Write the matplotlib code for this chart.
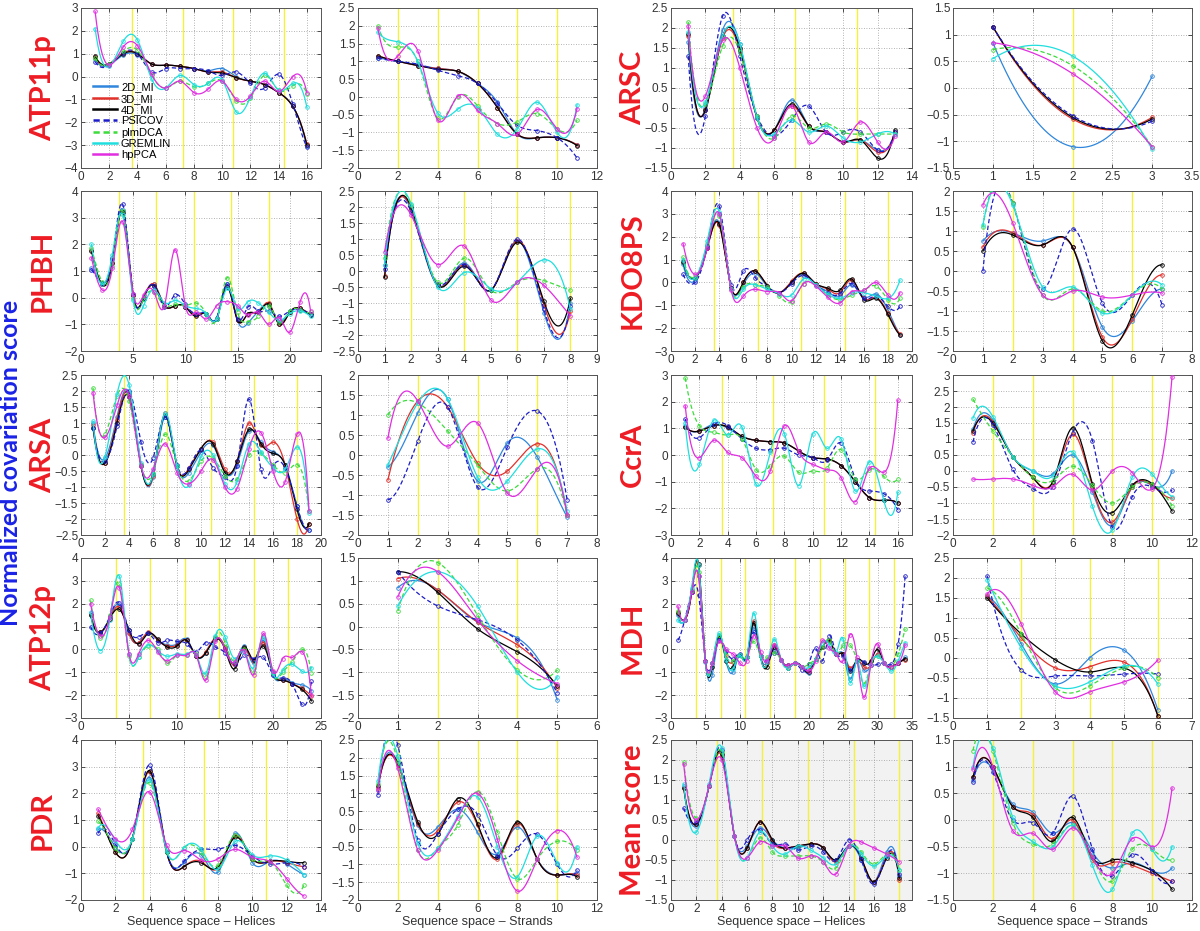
#!/usr/bin/env python3

import numpy as np
import matplotlib
matplotlib.use("Agg")
import matplotlib.pyplot as plt
from matplotlib.lines import Line2D
from matplotlib.ticker import FuncFormatter

SERIES = ["2D_MI", "3D_MI", "4D_MI", "PSICOV", "plmDCA", "GREMLIN", "hpPCA"]

# ---------------------------------------------------------------- data
atp11p_helix = {
    "2D_MI":   [0.75, 0.5, 0.95, 0.95, 0.55, 0.5, 0.45, 0.35, 0.25, 0.35, 0.0, -0.2, -0.35, -0.7, -1.3, -3.05],
    "3D_MI":   [0.85, 0.55, 1.05, 1.0, 0.55, 0.5, 0.45, 0.35, 0.2, 0.2, -0.05, -0.2, -0.35, -0.7, -1.3, -2.95],
    "4D_MI":   [0.9, 0.55, 1.0, 1.0, 0.55, 0.5, 0.45, 0.35, 0.2, 0.15, -0.05, -0.2, -0.35, -0.7, -1.3, -3.0],
    "PSICOV":  [0.65, 0.5, 1.05, 1.0, 0.2, 0.35, 0.35, 0.35, 0.25, 0.05, 0.2, -0.3, -0.5, 0.1, -1.2, -3.1],
    "plmDCA":  [0.8, 0.55, 1.1, 1.15, 0.05, -0.5, -0.2, -0.45, -0.3, -0.2, -1.05, -0.95, 0.05, -0.6, -0.4, -0.75],
    "GREMLIN": [2.1, 0.45, 1.55, 1.6, -0.1, -0.5, 0.05, -0.35, -0.3, -0.15, -1.55, -0.9, 0.15, -0.6, -0.3, -1.35],
    "hpPCA":   [2.85, 0.5, 1.3, 1.35, 0.1, -0.5, -0.2, -0.7, -0.55, -0.2, -1.0, -0.85, -0.2, -0.65, 0.0, -0.7],
}
atp11p_strand = {
    "2D_MI":   [1.1, 1.0, 0.9, 0.8, 0.72, 0.38, -0.15, -1.05, -1.15, -1.15, -1.35],
    "3D_MI":   [1.15, 1.0, 0.88, 0.8, 0.72, 0.38, -0.3, -1.05, -1.15, -1.15, -1.35],
    "4D_MI":   [1.15, 1.0, 0.88, 0.78, 0.72, 0.38, -0.3, -1.05, -1.15, -1.15, -1.37],
    "PSICOV":  [1.1, 1.0, 0.92, 0.75, 0.6, 0.38, -0.18, -0.8, -0.95, -1.15, -1.72],
    "plmDCA":  [2.0, 1.4, 1.0, -0.6, 0.0, -0.25, -0.75, -0.7, -0.47, -0.9, -0.65],
    "GREMLIN": [1.82, 1.55, 1.0, -0.45, -0.35, -0.3, -1.05, -0.9, -0.15, -1.0, -0.22],
    "hpPCA":   [1.93, 1.15, 1.3, -0.65, 0.02, -0.38, -0.75, -1.05, -0.35, -0.9, -0.33],
}
arsc_helix = {
    "2D_MI":   [1.65, 0.0, 1.95, 1.6, -0.25, -0.55, 0.2, -0.45, -0.6, -0.85, -0.8, -1.05, -0.65],
    "3D_MI":   [1.8, -0.05, 1.75, 1.45, -0.25, -0.55, 0.05, -0.45, -0.6, -0.85, -0.8, -1.1, -0.6],
    "4D_MI":   [1.85, -0.05, 1.8, 1.5, -0.25, -0.55, 0.1, -0.45, -0.6, -0.85, -0.8, -1.25, -0.55],
    "PSICOV":  [1.3, -0.2, 2.3, 1.3, -0.2, -0.7, -0.3, 0.05, -0.6, -0.6, -0.6, -1.05, -0.6],
    "plmDCA":  [2.15, 0.1, 1.55, 1.4, -0.2, -0.75, -0.2, -0.5, -0.4, -0.6, -0.65, -0.65, -0.65],
    "GREMLIN": [1.9, 0.15, 1.8, 1.6, -0.25, -0.65, -0.3, -0.6, -0.45, -0.75, -0.85, -0.65, -0.65],
    "hpPCA":   [2.05, 0.3, 1.7, 1.0, -0.5, -0.75, 0.05, -0.85, -0.6, -0.85, -0.35, -0.85, -0.7],
}
arsc_strand = {
    "2D_MI":   [0.85, -1.1, 0.22],
    "3D_MI":   [1.15, -0.58, -0.55],
    "4D_MI":   [1.15, -0.55, -0.58],
    "PSICOV":  [1.15, -0.52, -0.62],
    "plmDCA":  [0.72, 0.42, -1.1],
    "GREMLIN": [0.55, 0.6, -1.15],
    "hpPCA":   [0.85, 0.27, -1.1],
}
phbh_helix = {
    "2D_MI":   [1.1, 0.55, 1.4, 3.3, 0.1, -0.05, 0.5, -0.3, -0.3, -0.35, -0.6, -0.6, -0.8, 0.5, -0.85, -0.95, -0.5, -0.3, -0.9, -0.55, -0.45, -0.65],
    "3D_MI":   [1.8, 0.5, 1.3, 3.2, 0.1, 0.0, 0.5, -0.3, -0.3, -0.35, -0.65, -0.6, -0.8, 0.45, -0.85, -0.6, -0.55, -0.2, -1.0, -0.55, -0.4, -0.6],
    "4D_MI":   [1.75, 0.5, 1.3, 3.2, 0.1, 0.0, 0.45, -0.3, -0.3, -0.35, -0.7, -0.6, -0.8, 0.4, -0.85, -0.6, -0.55, -0.25, -1.0, -0.55, -0.4, -0.65],
    "PSICOV":  [1.05, 0.55, 1.5, 3.5, 0.15, 0.0, 0.45, -0.35, 0.1, -0.25, -0.6, -0.6, -0.75, 0.5, -0.8, -0.35, -0.5, -0.5, -0.7, -0.5, -0.45, -0.6],
    "plmDCA":  [1.85, 0.6, 1.2, 3.25, 0.0, -0.05, 0.2, -0.3, -0.25, -0.3, -0.2, -0.6, -0.8, 0.75, -0.55, -0.9, -0.7, -0.3, -0.9, -0.5, -0.45, -0.55],
    "GREMLIN": [2.0, 0.5, 1.6, 3.1, -0.1, -0.3, 0.3, -0.2, -0.1, -0.3, -0.4, -0.6, -0.8, 0.35, -0.4, -0.15, -0.2, -0.55, -0.85, -0.6, -0.5, -0.7],
    "hpPCA":   [1.5, 0.3, 1.1, 2.85, 0.15, 0.1, 0.2, -0.3, 1.8, -0.3, -0.55, -0.8, -0.3, -0.15, -0.3, -0.65, -0.55, -1.0, -0.75, -1.3, -0.15, -0.5],
}
phbh_strand = {
    "2D_MI":   [0.2, 1.9, -0.45, 0.25, -0.6, 0.95, -1.3, -1.0],
    "3D_MI":   [-0.15, 1.95, -0.45, 0.2, -0.6, 0.95, -1.05, -1.25],
    "4D_MI":   [-0.2, 2.0, -0.45, 0.15, -0.6, 0.9, -0.95, -0.85],
    "PSICOV":  [0.05, 1.85, -0.4, 0.2, -0.6, 1.0, -1.2, -1.1],
    "plmDCA":  [0.4, 2.05, -0.35, 0.4, -0.6, -0.35, -0.3, -0.6],
    "GREMLIN": [0.2, 2.1, -0.5, -0.05, -0.55, -0.35, 0.35, -1.2],
    "hpPCA":   [0.6, 1.75, 0.2, 0.78, -0.9, -0.35, -0.45, -1.4],
}
kdo8ps_helix = {
    "2D_MI":   [0.8, 0.1, 1.6, 2.6, -0.25, -0.1, 0.4, -0.2, -0.45, 0.0, 0.35, -0.1, -0.4, -0.6, -0.1, -0.65, -0.5, -1.2, -2.3],
    "3D_MI":   [0.95, 0.2, 1.5, 2.5, -0.25, 0.0, 0.5, -0.15, -0.45, 0.05, 0.4, -0.05, -0.3, -0.45, 0.1, -0.7, -0.65, -1.35, -2.25],
    "4D_MI":   [0.9, 0.2, 1.5, 2.55, -0.25, 0.0, 0.5, -0.15, -0.45, 0.0, 0.4, -0.05, -0.25, -0.35, 0.15, -0.75, -0.7, -1.4, -2.3],
    "PSICOV":  [0.35, 0.0, 1.6, 3.35, -0.1, 0.5, 0.2, -0.2, -0.45, -0.05, 0.3, -0.1, -0.45, -0.5, -0.05, -0.7, -0.6, -1.05, -1.05],
    "plmDCA":  [1.1, 0.25, 1.7, 2.9, -0.3, -0.2, -0.1, -0.2, -0.6, -0.85, -0.05, -0.1, -0.55, -0.75, -0.55, -0.35, -0.15, -0.75, -0.7],
    "GREMLIN": [1.0, 0.2, 1.8, 3.1, -0.3, -0.3, -0.1, -0.3, -0.5, -0.55, 0.15, -0.1, -0.5, -0.7, -0.45, -0.45, -0.6, -0.7, 0.1],
    "hpPCA":   [1.7, 0.35, 1.5, 3.0, -0.35, -0.6, -0.3, -0.4, -0.45, -0.8, -0.05, -0.15, -0.65, -0.9, -0.4, -0.35, 0.0, -0.55, -0.45],
}
kdo8ps_strand = {
    "2D_MI":   [0.75, 0.95, 0.75, 0.6, -1.4, -1.25, -0.45],
    "3D_MI":   [0.6, 0.95, 0.65, 0.6, -1.65, -1.2, -0.1],
    "4D_MI":   [0.5, 0.9, 0.65, 0.6, -1.75, -1.1, 0.15],
    "PSICOV":  [0.0, 1.7, -0.45, 1.05, -0.8, -0.6, -0.85],
    "plmDCA":  [1.1, 1.7, -0.6, -0.45, -1.0, -0.6, -0.45],
    "GREMLIN": [1.15, 1.65, -0.4, -0.4, -1.05, -0.6, -0.35],
    "hpPCA":   [1.65, 1.2, -0.6, -0.5, -0.65, -0.6, -0.55],
}
arsa_helix = {
    "2D_MI":   [1.0, -0.1, 1.2, 1.95, -0.3, -0.7, 1.2, -0.35, -0.55, 0.1, 0.3, -0.55, -0.3, 0.75, 0.4, 0.1, -0.3, -1.6, -2.35],
    "3D_MI":   [0.95, -0.25, 1.1, 1.9, -0.3, -0.65, 1.3, -0.35, -0.4, 0.2, 0.4, -0.45, -0.2, 1.0, 0.3, 0.4, -0.3, -2.0, -2.15],
    "4D_MI":   [0.85, -0.25, 1.0, 1.8, -0.35, -0.6, 1.25, -0.35, -0.45, 0.2, 0.35, -0.55, -0.2, 0.8, 0.35, 0.05, -0.3, -1.7, -2.15],
    "PSICOV":  [0.85, -0.2, 0.9, 2.0, 0.4, -0.1, 1.2, -0.3, -0.4, 0.15, -0.4, -0.7, -0.35, 1.75, -0.45, -0.35, -0.4, -1.6, -2.35],
    "plmDCA":  [2.1, 0.65, 1.85, 1.7, -0.3, -0.55, 0.65, -0.35, -0.8, -0.2, -0.1, -0.65, -0.75, 0.0, 0.05, -0.3, -0.55, -0.3, -1.75],
    "GREMLIN": [1.05, -0.05, 1.9, 2.2, -0.25, -0.6, 1.3, -0.35, -0.95, -0.05, 0.0, -0.9, -0.85, 0.35, 0.1, -0.4, -0.45, 0.25, -1.8],
    "hpPCA":   [1.95, 0.55, 1.55, 1.85, -0.35, -0.45, 0.35, -0.55, -0.9, -0.5, -0.15, -1.0, -1.05, 0.2, 0.7, -0.5, -0.85, 0.65, -1.75],
}
arsa_strand = {
    "2D_MI":   [-0.3, 1.05, 1.4, -0.65, 0.3, -0.05, -1.55],
    "3D_MI":   [-0.62, 1.35, 1.2, -0.2, -0.4, 0.28, -1.5],
    "4D_MI":   [],
    "PSICOV":  [-1.12, 0.35, 1.2, -0.8, 0.2, 1.1, -1.12],
    "plmDCA":  [1.0, 1.3, 0.6, -0.25, -0.9, -0.35, -1.5],
    "GREMLIN": [-0.25, 1.3, 1.4, -0.55, -0.65, 0.15, -1.4],
    "hpPCA":   [0.42, 1.35, 0.22, 0.8, -0.95, -0.35, -1.5],
}
ccra_helix = {
    "2D_MI":   [1.1, 0.9, 1.15, 1.0, 0.7, 0.55, 0.5, 0.45, 0.15, -0.1, -0.15, -0.4, -1.0, -1.6, -1.7, -1.8],
    "3D_MI":   [1.05, 0.9, 1.1, 1.05, 0.7, 0.55, 0.5, 0.45, 0.15, -0.1, -0.15, -0.4, -1.0, -1.6, -1.7, -1.8],
    "4D_MI":   [1.05, 0.9, 1.1, 1.05, 0.7, 0.55, 0.5, 0.45, 0.15, -0.1, -0.15, -0.4, -1.0, -1.6, -1.7, -1.8],
    "PSICOV":  [1.35, 0.65, 1.15, 1.1, 0.6, 0.25, 0.2, 0.25, 0.0, -0.1, -0.2, 0.45, -0.9, -1.35, -1.45, -2.05],
    "plmDCA":  [2.9, 1.1, 0.85, 0.75, 0.6, -0.55, -0.4, -0.05, -0.65, -0.6, -0.5, 0.2, -0.9, -0.55, -0.8, -0.9],
    "GREMLIN": [1.2, -0.35, 1.3, 0.75, 1.05, -1.1, 0.1, 0.8, -1.15, 0.8, 0.25, 0.6, -1.35, -0.25, -1.7, -1.4],
    "hpPCA":   [1.85, -0.1, 0.55, 0.1, -0.1, -0.8, -0.6, 1.1, 0.15, -0.35, -0.55, -0.85, -1.75, -0.5, -0.65, 2.05],
}
ccra_strand = {
    "2D_MI":   [1.3, 1.6, 0.45, 0.0, -0.1, 0.5, -0.65, -1.7, -0.5, -0.45, 0.0],
    "3D_MI":   [1.2, 1.55, 0.45, -0.2, -0.35, 1.15, -0.5, -1.6, -0.5, -0.45, -0.85],
    "4D_MI":   [1.25, 1.5, 0.45, -0.2, -0.35, 1.35, -0.4, -1.3, -0.45, -0.4, -1.25],
    "PSICOV":  [0.9, 1.45, 0.05, -0.55, -0.5, 1.2, 0.95, -1.75, -0.8, -0.5, -0.6],
    "plmDCA":  [2.25, 1.25, 0.45, -0.2, -0.3, 0.15, -0.45, -1.0, -0.5, -0.4, -1.1],
    "GREMLIN": [1.65, 1.7, 0.45, 0.0, -0.15, 0.6, -1.1, -1.85, -0.2, -0.1, -0.8],
    "hpPCA":   [-0.25, -0.25, -0.25, -0.45, -0.5, -0.1, -0.6, 0.0, -0.05, -0.55, 2.95],
}
atp12p_helix = {
    "2D_MI":   [1.6, 0.7, 1.4, 1.95, 0.7, 0.3, 0.7, 0.4, 0.2, 0.25, 0.45, -0.3, -0.15, 0.5, 0.1, -0.6, 0.15, -0.6, 0.4, -1.1, -1.3, -1.45, -1.55, -1.8],
    "3D_MI":   [1.5, 0.75, 1.35, 1.85, 0.7, 0.3, 0.75, 0.4, 0.15, 0.2, 0.4, -0.3, -0.1, 0.5, 0.1, -0.7, 0.05, -0.5, 0.3, -1.0, -1.35, -1.5, -1.7, -2.05],
    "4D_MI":   [1.5, 0.75, 1.35, 1.75, 0.85, 0.25, 0.7, 0.45, 0.1, 0.15, 0.4, -0.3, -0.15, 0.45, 0.0, -0.85, 0.1, -0.45, 0.15, -1.05, -1.35, -1.5, -1.75, -2.25],
    "PSICOV":  [1.0, 0.7, 1.45, 2.05, 0.85, 0.55, 0.7, 0.3, 0.4, 0.35, 0.25, -0.1, 0.3, 0.1, -0.15, -0.65, -0.25, -0.4, -0.35, -1.1, -1.25, -1.5, -2.4, -1.4],
    "plmDCA":  [2.15, 0.5, 1.5, 2.85, -0.3, -0.35, 0.15, 0.0, -0.6, -0.25, -0.25, -0.2, -1.2, 0.55, 0.3, -0.5, 0.0, -1.0, 0.6, -1.05, -1.0, -0.55, 0.0, -1.05],
    "GREMLIN": [1.65, -0.05, 1.3, 3.2, -0.2, -0.35, 0.2, -0.05, -0.3, -0.2, -0.2, -0.25, -1.05, 0.6, 0.55, -0.4, -0.1, -0.8, 0.55, -1.05, -0.9, -0.65, -0.95, -0.8],
    "hpPCA":   [2.0, 0.6, 1.4, 2.7, -0.2, -0.2, 0.4, -0.1, -0.5, -0.25, -0.25, -0.25, -1.35, 0.35, 0.0, -0.55, -0.05, -1.1, 0.7, -0.95, -0.4, -0.35, -0.1, -2.0],
}
atp12p_strand = {
    "2D_MI":   [0.85, 0.8, 0.1, -0.25, -1.6],
    "3D_MI":   [1.05, 0.8, 0.1, -0.4, -1.35],
    "4D_MI":   [1.2, 0.75, -0.05, -0.55, -1.3],
    "PSICOV":  [1.2, 0.45, 0.15, -0.3, -1.45],
    "plmDCA":  [0.35, 1.4, 0.25, -0.95, -0.95],
    "GREMLIN": [0.45, 1.2, 0.45, -1.0, -1.1],
    "hpPCA":   [0.65, 1.2, 0.15, -0.75, -1.25],
}
mdh_helix = {
    "2D_MI":   [1.5, 1.3, 2.6, 3.2, -0.5, -1.1, 0.55, -0.5, -1.0, -0.25, -0.35, 0.95, -0.3, -0.55, 0.0, -0.45, -0.8, -0.6, -0.75, -1.05, -0.4, 0.1, 0.35, -0.2, -0.2, -1.3, -0.5, -0.9, -0.7, -0.2, -0.6, -0.75, -0.6, -0.35],
    "3D_MI":   [1.65, 1.3, 2.5, 3.7, -0.5, -0.6, 0.55, -0.3, -0.55, -0.25, -0.35, 1.25, -0.3, -0.6, 0.2, -0.45, -0.8, -0.6, -0.75, -0.9, -0.4, 0.1, 0.35, -0.2, -0.2, -0.8, -0.5, -0.75, -0.7, -0.2, -0.6, -0.75, -0.6, -0.45],
    "4D_MI":   [1.6, 1.3, 2.5, 3.75, -0.5, -0.75, 0.6, -0.5, -0.75, -0.25, -0.35, 1.15, -0.3, -0.75, 0.1, -0.45, -0.7, -0.6, -0.75, -1.0, -0.4, 0.1, 0.4, -0.2, -0.2, -0.95, -0.45, -0.6, -0.5, 0.0, -0.6, -0.75, -0.6, -0.4],
    "PSICOV":  [0.4, 1.3, 2.5, 2.4, -0.5, -0.6, 0.4, -0.05, -0.4, -0.2, -0.35, 0.75, -0.3, -0.45, -0.15, -0.45, -0.8, -0.6, -0.9, -0.65, 0.05, -0.5, 0.6, -0.2, -0.3, -0.9, -0.5, -0.55, -0.7, -0.65, -0.6, -0.65, 0.25, 3.2],
    "plmDCA":  [1.7, 1.3, 2.6, 3.4, -0.5, -0.6, 0.65, -0.25, -0.5, -0.25, -0.35, 0.35, -0.3, -0.35, -0.15, -0.45, -0.8, -0.6, -0.75, -0.65, -0.4, 0.1, 0.4, -0.2, 0.2, 0.2, -0.5, -1.5, -0.7, -0.3, -0.6, -0.75, -0.2, 0.9],
    "GREMLIN": [1.3, 1.3, 2.7, 3.7, -0.55, -0.6, 0.7, -0.45, -0.85, -0.25, -0.35, 1.6, -0.3, -0.55, 0.45, -0.45, -0.8, -0.6, -0.75, -0.8, -0.4, 0.3, 0.2, -0.15, 0.45, -1.45, -0.5, -1.6, -0.7, -0.3, -0.6, -0.95, -0.5, 0.3],
    "hpPCA":   [1.9, 1.3, 2.5, 3.2, -0.5, -0.6, 0.35, 0.0, -0.2, -0.6, -0.5, 0.6, -0.1, -0.5, 0.2, -0.45, -0.7, -0.6, -0.75, -0.95, -0.5, 0.4, 0.05, -0.2, -0.5, 0.65, -0.35, -2.1, -0.7, 0.25, -0.6, -0.75, -0.6, 0.2],
}
mdh_strand = {
    "2D_MI":   [1.55, 0.35, -0.65, 0.0, 0.2, -1.3],
    "3D_MI":   [1.55, 0.5, -0.25, -0.22, -0.1, -1.45],
    "4D_MI":   [1.5, 0.6, -0.05, -0.35, -0.25, -1.45],
    "PSICOV":  [2.05, -0.3, -0.45, -0.45, -0.4, -0.4],
    "plmDCA":  [1.75, 0.6, -0.75, -0.7, -0.25, -0.5],
    "GREMLIN": [1.95, 0.25, -0.7, -0.6, -0.2, -0.65],
    "hpPCA":   [1.6, 0.85, -0.85, -0.85, -0.6, -0.05],
}
pdr_helix = {
    "2D_MI":   [0.65, 0.0, 0.3, 2.6, -0.2, -0.6, -0.3, -0.95, 0.5, -0.6, -0.55, -0.65, -1.05],
    "3D_MI":   [1.25, -0.2, 0.3, 2.8, -0.2, -0.75, -0.55, -0.8, 0.4, -0.45, -0.55, -0.6, -0.75],
    "4D_MI":   [1.15, -0.2, 0.3, 2.85, -0.2, -0.75, -0.6, -0.75, 0.35, -0.45, -0.55, -0.55, -0.6],
    "PSICOV":  [0.5, 0.1, 0.3, 3.05, -0.2, -0.55, -0.1, -0.1, 0.05, -0.35, -0.65, -0.6, -0.75],
    "plmDCA":  [0.95, -0.05, 0.3, 2.4, -0.2, -0.05, -0.2, -0.7, 0.45, -0.45, -0.55, -1.45, -1.45],
    "GREMLIN": [0.7, 0.25, 0.3, 2.5, -0.15, -0.05, -0.1, -0.85, 0.2, -0.3, -0.35, -0.5, -1.05],
    "hpPCA":   [1.4, 0.3, 0.65, 2.05, 0.05, -0.15, -0.5, -0.45, -0.1, -0.4, -0.55, -1.2, -1.85],
}
pdr_strand = {
    "2D_MI":   [1.1, 1.85, 0.1, 0.05, 0.55, -0.1, -0.7, 0.05, -0.85, -1.3, -1.25],
    "3D_MI":   [1.15, 1.8, 0.15, -0.05, 0.75, 0.1, -0.85, 0.15, -0.85, -1.3, -1.3],
    "4D_MI":   [1.2, 1.85, 0.2, -0.15, 0.85, 0.15, -0.8, 0.2, -0.85, -1.3, -1.35],
    "PSICOV":  [0.95, 2.35, -0.3, -0.15, 0.55, 0.4, -0.75, -0.55, -0.15, -1.0, -1.15],
    "plmDCA":  [1.25, 1.9, -0.6, -0.55, 0.1, 1.05, -0.1, -1.4, -0.85, -0.35, -0.6],
    "GREMLIN": [1.35, 2.05, -0.4, -0.55, 0.35, 0.9, -0.5, -1.35, -0.2, -0.95, -0.5],
    "hpPCA":   [1.1, 1.7, -0.6, -0.6, 0.3, 1.0, -0.3, -1.75, -0.85, -0.05, -0.8],
}
mean_helix = {
    "2D_MI":   [1.35, 0.35, 1.35, 2.1, 0.1, -0.15, 0.3, 0.0, -0.2, -0.2, -0.1, -0.2, -0.5, -0.15, -0.5, -1.05, -0.3, -0.9],
    "3D_MI":   [1.3, 0.4, 1.35, 2.1, 0.1, -0.2, 0.45, -0.05, -0.2, -0.15, -0.1, -0.2, -0.55, -0.15, -0.45, -1.05, -0.4, -1.0],
    "4D_MI":   [1.3, 0.4, 1.35, 2.15, 0.1, -0.2, 0.45, 0.0, -0.2, -0.15, -0.1, -0.2, -0.5, -0.15, -0.45, -1.05, -0.45, -0.95],
    "PSICOV":  [0.8, 0.45, 1.35, 2.25, 0.1, 0.0, 0.25, -0.1, -0.1, -0.25, -0.15, -0.3, -0.5, 0.0, -0.5, -1.1, -0.4, -0.85],
    "plmDCA":  [1.95, 0.55, 1.35, 2.2, 0.1, -0.45, 0.05, -0.3, -0.4, -0.4, -0.4, -0.55, -0.7, -0.15, -0.3, -0.6, -0.35, -0.75],
    "GREMLIN": [1.4, 0.2, 1.4, 2.3, 0.1, -0.45, 0.2, -0.15, -0.35, -0.15, -0.25, -0.45, -0.6, -0.15, -0.35, -0.65, -0.4, -0.75],
    "hpPCA":   [1.9, 0.5, 1.35, 2.0, 0.1, -0.45, -0.05, -0.15, -0.15, -0.45, -0.4, -0.55, -0.85, -0.15, -0.05, -0.2, -0.35, -0.55],
}
mean_strand = {
    "2D_MI":   [0.75, 0.95, 0.3, 0.15, -0.25, -0.05, -0.6, -0.9, -0.8, -0.95, -0.9],
    "3D_MI":   [0.8, 1.0, 0.25, 0.1, -0.35, 0.0, -0.75, -0.8, -0.85, -1.0, -1.15],
    "4D_MI":   [0.8, 1.0, 0.25, 0.05, -0.4, 0.05, -0.7, -0.75, -0.8, -0.95, -1.3],
    "PSICOV":  [0.72, 0.9, 0.0, -0.05, -0.25, 0.45, -0.55, -1.05, -0.65, -0.95, -1.15],
    "plmDCA":  [1.3, 1.3, -0.05, -0.45, -0.45, -0.1, -0.7, -1.15, -0.55, -0.55, -0.75],
    "GREMLIN": [1.0, 1.35, 0.05, -0.4, -0.5, -0.1, -0.85, -1.3, -0.25, -0.55, -0.5],
    "hpPCA":   [0.95, 1.0, -0.2, -0.25, -0.55, -0.15, -0.7, -1.0, -0.35, -0.5, 0.6],
}

left_names = ["ATP11p", "PHBH", "ARSA", "ATP12p", "PDR"]
right_names = ["ARSC", "KDO8PS", "CcrA", "MDH", "Mean score"]
panels = {
    "ATP11p": (atp11p_helix, atp11p_strand),
    "PHBH": (phbh_helix, phbh_strand),
    "ARSA": (arsa_helix, arsa_strand),
    "ATP12p": (atp12p_helix, atp12p_strand),
    "PDR": (pdr_helix, pdr_strand),
    "ARSC": (arsc_helix, arsc_strand),
    "KDO8PS": (kdo8ps_helix, kdo8ps_strand),
    "CcrA": (ccra_helix, ccra_strand),
    "MDH": (mdh_helix, mdh_strand),
    "Mean score": (mean_helix, mean_strand),
}
# number of helix turns (every 3.6) / strand pairs (every 2) marked in yellow
helix_turns = {"ATP11p": 4, "PHBH": 5, "ARSA": 5, "ATP12p": 6, "PDR": 3,
               "ARSC": 3, "KDO8PS": 5, "CcrA": 4, "MDH": 9, "Mean score": 5}
strand_turns = {"ATP11p": 5, "PHBH": 4, "ARSA": 3, "ATP12p": 2, "PDR": 5,
                "ARSC": 1, "KDO8PS": 3, "CcrA": 5, "MDH": 3, "Mean score": 5}

# ---------------------------------------------------------------- axis setup
# (ymin, ymax, ystep, xstep, xlim or None)
helix_axes = {
    "ATP11p": (-4, 3, 1, 2, None),
    "PHBH": (-2, 4, 1, 5, None),
    "ARSA": (-2.5, 2.5, 0.5, 2, None),
    "ATP12p": (-3, 4, 1, 5, None),
    "PDR": (-2, 4, 1, 2, None),
    "ARSC": (-1.5, 2.5, 0.5, 2, None),
    "KDO8PS": (-3, 4, 1, 2, None),
    "CcrA": (-3, 3, 1, 2, None),
    "MDH": (-3, 4, 1, 5, None),
    "Mean score": (-1.5, 2.5, 0.5, 2, None),
}
strand_axes = {
    "ATP11p": (-2, 2.5, 0.5, 2, None),
    "PHBH": (-2.5, 2.5, 0.5, 1, None),
    "ARSA": (-2, 2, 0.5, 1, None),
    "ATP12p": (-2, 1.5, 0.5, 1, None),
    "PDR": (-2, 2.5, 0.5, 2, None),
    "ARSC": (-1.5, 1.5, 0.5, 0.5, (0.5, 3.5)),
    "KDO8PS": (-2, 2, 0.5, 1, None),
    "CcrA": (-2, 3, 0.5, 2, None),
    "MDH": (-1.5, 2.5, 0.5, 1, None),
    "Mean score": (-1.5, 1.5, 0.5, 2, None),
}

COLORS = {
    "2D_MI": "#2f86dc", "3D_MI": "#e2302b", "4D_MI": "#000000",
    "PSICOV": "#1c1cc8", "plmDCA": "#3cdc3c", "GREMLIN": "#20dede",
    "hpPCA": "#e02ee0",
}
DASHED = {"PSICOV", "plmDCA"}
RED = "#ee1c24"
BLUE = "#1a22e6"

plt.rcParams["font.family"] = ["Liberation Sans", "DejaVu Sans"]
plt.rcParams["axes.unicode_minus"] = True


def spline(x, y, n=300):
    # MATLAB style not-a-knot cubic spline through the points
    x = np.asarray(x, float)
    y = np.asarray(y, float)
    xs = np.linspace(x[0], x[-1], n)
    if len(x) == 3:
        return xs, np.polyval(np.polyfit(x, y, 2), xs)
    N = len(x)
    h = np.diff(x)
    A = np.zeros((N, N))
    b = np.zeros(N)
    for i in range(1, N - 1):
        A[i, i - 1] = h[i - 1]
        A[i, i] = 2 * (h[i - 1] + h[i])
        A[i, i + 1] = h[i]
        b[i] = 6 * ((y[i + 1] - y[i]) / h[i] - (y[i] - y[i - 1]) / h[i - 1])
    A[0, 0], A[0, 1], A[0, 2] = h[1], -(h[0] + h[1]), h[0]
    A[-1, -3], A[-1, -2], A[-1, -1] = h[-1], -(h[-2] + h[-1]), h[-2]
    M = np.linalg.solve(A, b)
    k = np.clip(np.searchsorted(x, xs) - 1, 0, N - 2)
    hk = h[k]
    a = x[k + 1] - xs
    c = xs - x[k]
    ys = (M[k] * a ** 3 / (6 * hk) + M[k + 1] * c ** 3 / (6 * hk)
          + (y[k] / hk - M[k] * hk / 6) * a + (y[k + 1] / hk - M[k + 1] * hk / 6) * c)
    return xs, ys


def fmt(v, pos):
    s = "%g" % v
    return s.replace("-", "\u2212")


def draw(ax, data, cfg, period, turns, shaded):
    ymin, ymax, ystep, xstep, xlim = cfg
    n = max(len(v) for v in data.values())
    if xlim is None:
        xlim = (0, n + 1)
    if shaded:
        ax.set_facecolor("#f2f2f2")
    for k in range(1, turns + 1):
        ax.axvline(k * period, color="#f4f03c", lw=1.0, zorder=1)
    for name in SERIES:
        vals = data[name]
        if not vals:
            continue
        x = np.arange(1, len(vals) + 1)
        xs, ys = spline(x, vals)
        ls = (0, (3.5, 2)) if name in DASHED else "-"
        ax.plot(xs, ys, color=COLORS[name], lw=0.9, ls=ls, zorder=3)
        ax.plot(x, vals, "o", ms=2.6, mfc="none", mec=COLORS[name], mew=0.6, zorder=3)
    ax.set_xlim(*xlim)
    ax.set_ylim(ymin, ymax)
    ax.set_xticks(np.arange(np.ceil(xlim[0] / xstep) * xstep, xlim[1] + 1e-9, xstep))
    ax.set_yticks(np.arange(ymin, ymax + 1e-9, ystep))
    ax.xaxis.set_major_formatter(FuncFormatter(fmt))
    ax.yaxis.set_major_formatter(FuncFormatter(fmt))
    ax.grid(True, ls=(0, (1, 2)), color="#9a9a9a", lw=0.6, zorder=0)
    ax.set_axisbelow(True)
    ax.tick_params(direction="in", length=3, width=0.6, labelsize=8.5,
                   top=True, right=True, colors="#333333", pad=2)
    for sp in ax.spines.values():
        sp.set_color("#555555")
        sp.set_linewidth(0.7)


fig = plt.figure(figsize=(12, 9.31), dpi=100)
W, H = 1200.0, 931.0
col_left = [81, 358, 671, 953]
col_width = [240, 239, 241, 239]
row_top = [8, 191, 375, 558, 740]
row_h = 160


def make_axes(col, row):
    return fig.add_axes([col_left[col] / W, 1 - (row_top[row] + row_h) / H,
                         col_width[col] / W, row_h / H])


for block, names in enumerate([left_names, right_names]):
    for row, name in enumerate(names):
        helix, strand = panels[name]
        shaded = name == "Mean score"
        axh = make_axes(2 * block, row)
        draw(axh, helix, helix_axes[name], 3.6, helix_turns[name], shaded)
        axs = make_axes(2 * block + 1, row)
        draw(axs, strand, strand_axes[name], 2.0, strand_turns[name], shaded)
        label_x = (43 if block == 0 else 633) / W
        label_y = 1 - (row_top[row] + row_h / 2) / H
        fig.text(label_x, label_y, name, rotation=90, ha="center", va="center",
                 color=RED, fontsize=21, fontweight="bold", family=["Lato", "DejaVu Sans"])
        if row == 4:
            axh.set_xlabel("Sequence space \u2013 Helices", fontsize=9, color="#333333", labelpad=1)
            axs.set_xlabel("Sequence space \u2013 Strands", fontsize=9, color="#333333", labelpad=1)
        if block == 0 and row == 0:
            handles = [Line2D([], [], color=COLORS[s], lw=1.8,
                              ls=(0, (2.5, 1.5)) if s in DASHED else "-") for s in SERIES]
            axh.legend(handles, SERIES, loc="lower left", bbox_to_anchor=(0.03, 0.02),
                       frameon=False, fontsize=8, handlelength=2.2, handletextpad=0.35,
                       labelspacing=0.12, borderaxespad=0.0)

fig.text(11 / W, 1 - 463 / H, "Normalized covariation score", rotation=90, ha="center",
         va="center", color=BLUE, fontsize=18, fontweight="bold", family=["Lato", "DejaVu Sans"])

fig.savefig("out.png", dpi=100)
